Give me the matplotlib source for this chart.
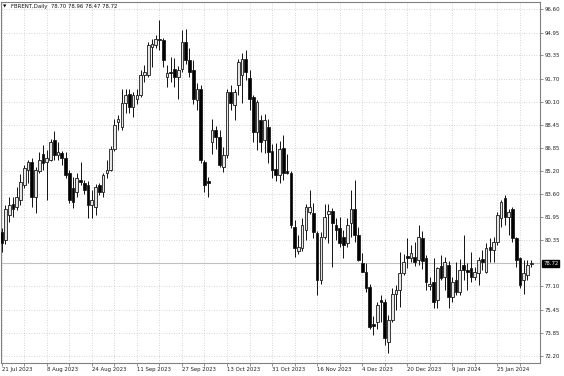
import matplotlib
matplotlib.use("Agg")
import matplotlib.pyplot as plt

# daily candles FBRENT, 21 Jul 2023 -> early Feb 2024
opens = [80.94, 80.35, 82.10, 82.87, 82.70, 83.17, 84.20, 85.28, 85.86, 83.40,
         85.20, 86.45, 85.86, 86.00, 87.40, 86.33, 86.50, 86.10, 85.05, 84.00,
         83.75, 84.62, 84.35, 84.20, 82.82, 82.70, 84.20, 83.75, 85.05, 85.28,
         86.80, 88.67, 88.32, 89.97, 90.67, 89.73, 90.32, 90.55, 91.96, 91.96,
         93.95, 94.07, 94.54, 94.42, 91.84, 92.20, 92.43, 91.84, 92.43, 94.30,
         93.00, 92.31, 90.20, 91.02, 85.86, 84.50, 87.27, 88.10, 87.62, 85.50,
         86.33, 90.78, 89.85, 91.26, 92.00, 93.13, 91.73, 90.43, 87.97, 88.80,
         87.40, 88.28, 86.64, 85.33, 84.93, 86.87, 85.20, 85.09, 81.29, 79.60,
         79.77, 81.06, 82.35, 82.28, 80.87, 77.54, 80.59, 82.18, 82.42, 81.41,
         81.18, 80.59, 80.12, 81.53, 82.58, 80.70, 78.72, 78.13, 77.07, 74.45,
         74.60, 76.13, 76.02, 73.20, 74.73, 76.60, 76.84, 78.01, 79.23, 79.07,
         79.18, 78.95, 80.47, 79.07, 77.10, 77.42, 76.14, 78.53, 77.78, 78.60,
         76.37, 77.54, 76.72, 78.60, 78.25, 78.37, 77.78, 78.01, 79.02, 78.13,
         79.88, 79.65, 80.24, 81.88, 83.29, 81.99, 82.58, 80.47, 79.07, 77.54,
         77.90, 78.70]
highs = [81.20, 82.82, 83.36, 83.36, 84.06, 85.00, 85.63, 86.00, 86.10, 85.50,
         86.56, 87.04, 86.68, 87.50, 88.04, 87.27, 86.60, 86.56, 85.30, 84.80,
         85.07, 85.86, 84.60, 84.50, 83.87, 84.30, 84.40, 85.10, 86.00, 87.00,
         88.91, 89.15, 91.02, 91.02, 91.00, 90.80, 91.00, 92.31, 92.66, 94.30,
         94.54, 94.77, 95.83, 94.60, 92.66, 93.25, 93.20, 92.60, 95.12, 95.24,
         93.84, 93.00, 91.38, 91.30, 86.00, 84.80, 88.90, 88.40, 88.10, 86.90,
         91.00, 91.26, 91.00, 93.10, 93.50, 93.70, 92.31, 90.60, 90.20, 89.15,
         89.20, 88.90, 87.15, 87.17, 87.30, 87.74, 86.45, 85.20, 81.76, 80.70,
         81.88, 82.93, 83.87, 83.00, 81.00, 80.90, 82.93, 82.93, 82.60, 81.88,
         82.00, 81.10, 81.90, 83.90, 84.57, 81.29, 79.42, 78.72, 77.30, 75.00,
         76.00, 76.50, 76.20, 75.10, 77.00, 77.20, 79.53, 79.40, 80.50, 80.00,
         80.20, 81.41, 81.00, 79.30, 77.78, 79.07, 78.48, 79.30, 79.18, 78.90,
         77.78, 78.83, 79.00, 80.70, 78.72, 79.53, 78.48, 79.18, 79.65, 80.12,
         80.47, 80.59, 82.35, 83.17, 83.52, 82.58, 82.70, 80.59, 79.18, 78.95,
         78.95, 78.96]
lows = [79.53, 80.10, 81.60, 82.00, 82.47, 82.80, 83.99, 84.34, 82.70, 82.25,
        85.05, 85.30, 83.17, 85.90, 86.00, 85.98, 85.63, 84.70, 83.00, 82.60,
        83.40, 84.20, 83.60, 81.88, 81.88, 82.10, 83.50, 83.40, 84.70, 85.20,
        86.60, 88.09, 88.10, 89.27, 89.30, 89.00, 89.90, 90.40, 91.49, 91.80,
        92.54, 93.84, 93.70, 92.54, 91.14, 91.49, 91.10, 90.32, 92.20, 92.78,
        91.84, 89.90, 89.50, 85.80, 83.75, 83.40, 86.45, 86.80, 85.50, 85.16,
        86.10, 89.50, 88.80, 90.55, 90.00, 91.60, 89.50, 87.27, 86.68, 86.56,
        86.50, 85.75, 84.70, 84.50, 84.40, 84.60, 85.00, 81.20, 79.18, 79.40,
        79.60, 80.36, 82.20, 80.50, 76.49, 77.30, 80.40, 80.12, 78.48, 80.36,
        79.90, 79.07, 79.90, 80.59, 80.20, 78.90, 78.10, 76.70, 74.10, 73.67,
        74.10, 74.60, 72.97, 72.39, 74.60, 75.43, 75.66, 77.90, 78.40, 78.80,
        78.50, 78.60, 78.30, 76.84, 76.84, 75.55, 75.55, 77.54, 76.84, 75.55,
        76.00, 76.50, 76.50, 77.54, 76.84, 77.42, 77.54, 77.19, 78.25, 78.01,
        78.83, 78.83, 80.00, 81.29, 81.41, 80.70, 80.24, 78.48, 76.96, 76.60,
        77.54, 78.47]
closes = [80.12, 82.58, 82.82, 82.58, 83.36, 84.46, 85.40, 85.86, 83.36, 85.28,
          86.00, 85.75, 86.10, 87.27, 86.33, 86.56, 86.10, 84.93, 83.17, 83.05,
          84.70, 84.46, 83.90, 82.82, 83.17, 84.06, 83.75, 84.93, 85.28, 86.80,
          88.44, 88.91, 89.97, 90.55, 89.73, 90.55, 90.55, 91.96, 92.20, 94.07,
          94.19, 94.54, 94.42, 93.00, 92.08, 92.08, 91.84, 92.31, 94.30, 93.00,
          92.20, 90.32, 91.02, 85.98, 84.20, 84.40, 88.10, 87.62, 85.63, 86.33,
          90.78, 89.97, 90.78, 92.90, 93.13, 92.20, 90.32, 87.97, 90.08, 87.27,
          88.80, 86.57, 85.28, 84.93, 86.80, 85.10, 85.10, 81.41, 79.77, 79.84,
          81.41, 82.70, 82.70, 80.94, 77.54, 80.60, 81.99, 82.42, 81.53, 81.06,
          80.12, 80.00, 81.41, 82.58, 80.70, 78.95, 78.13, 76.96, 74.26, 74.30,
          75.78, 76.00, 73.44, 74.73, 76.60, 76.84, 78.01, 78.83, 79.07, 79.42,
          78.83, 80.60, 78.90, 77.42, 77.30, 76.02, 78.37, 77.66, 78.83, 76.37,
          77.42, 76.72, 78.25, 78.25, 78.13, 77.78, 78.13, 78.95, 78.83, 79.77,
          79.65, 80.24, 82.11, 83.05, 81.99, 82.35, 80.47, 78.95, 77.19, 78.01,
          78.60, 78.72]

date_pos = [0, 12, 24, 36, 48, 60, 72, 84, 96, 108, 120, 132]
date_labels = ["21 Jul 2023", "8 Aug 2023", "24 Aug 2023", "11 Sep 2023",
               "27 Sep 2023", "13 Oct 2023", "31 Oct 2023", "16 Nov 2023",
               "4 Dec 2023", "20 Dec 2023", "9 Jan 2024", "25 Jan 2024"]
price_levels = [96.60, 94.95, 93.35, 91.70, 90.10, 88.45, 86.85, 85.20,
                83.60, 81.95, 80.35, 77.10, 75.45, 73.85, 72.20]
bid = 78.72

plt.rcParams['font.family'] = 'DejaVu Sans'
fs = 3.9

fig = plt.figure(figsize=(5.64, 3.76), dpi=100)
fig.patch.set_facecolor('white')
ax = fig.add_axes([1/564, 13/376, 539/564, 361/376])

n = len(closes)
x = list(range(n))
up = [c >= o for o, c in zip(opens, closes)]

ax.vlines(x, lows, highs, color='#111111', linewidth=0.7, zorder=3)
bottoms = [min(o, c) for o, c in zip(opens, closes)]
heights = [max(abs(c - o), 0.03) for o, c in zip(opens, closes)]
cols = ['#e6e6e6' if u else 'black' for u in up]
ax.bar(x, heights, bottom=bottoms, width=0.72, color=cols,
       edgecolor='#1a1a1a', linewidth=0.6, zorder=4)

ax.axhline(bid, color='#c0c0c0', linewidth=0.8, zorder=2)

ax.set_xlim(-0.19, 143.35)
ax.set_ylim(71.71, 97.11)

ax.set_xticks(date_pos)
ax.set_xticklabels(date_labels, fontsize=fs, ha='left')
ax.set_xticks(range(6, n, 12), minor=True)
ax.yaxis.tick_right()
ax.set_yticks(price_levels)
ax.set_yticklabels(['%.2f' % v for v in price_levels], fontsize=fs)
ax.tick_params(axis='x', which='both', length=2, width=0.6, color='#808080',
               pad=1.2, labelcolor='#222222')
ax.tick_params(axis='y', length=2, width=0.6, color='#808080', pad=1.5,
               labelcolor='#222222')
ax.grid(True, which='both', color='#c8c8c8', linestyle=(0, (1, 2)),
        linewidth=0.6, zorder=0)
for s in ax.spines.values():
    s.set_color('#808080')
    s.set_linewidth(0.8)

# current price box on the right scale
ax.annotate('%.2f' % bid, xy=(1, bid), xycoords=('axes fraction', 'data'),
            xytext=(2.2, 0), textcoords='offset points', va='center',
            ha='left', fontsize=fs, color='white',
            bbox=dict(boxstyle='square,pad=0.15', fc='black', ec='black'))

fig.text(3/564, 1 - 6.5/376, '\u25bc', fontsize=3.2, va='center', ha='left')
fig.text(11/564, 1 - 6.5/376, 'FBRENT,Daily  78.70 78.96 78.47 78.72',
         fontsize=fs, va='center', ha='left', color='#111111')

fig.savefig('out.png', dpi=100)
